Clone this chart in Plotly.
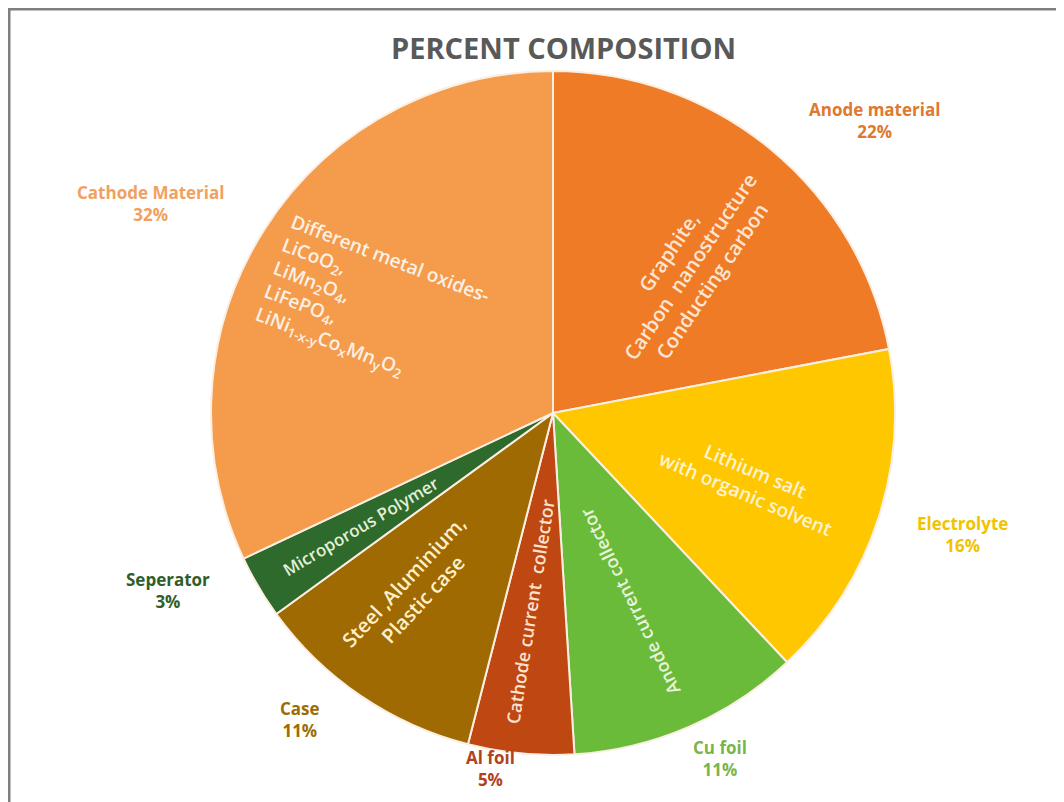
import plotly.graph_objects as go

# ---- data ----
labels = ["Anode material", "Electrolyte", "Cu foil", "Al foil", "Case", "Seperator", "Cathode Material"]
values = [22, 16, 11, 5, 11, 3, 32]
inside_texts = [
    "Graphite,<br>Carbon  nanostructure<br>Conducting carbon",
    "Lithium salt<br>with organic solvent",
    "Anode current collector",
    "Cathode current  collector",
    "Steel ,Aluminium,<br>Plastic case",
    "Microporous Polymer",
    "Different metal oxides-<br>LiCoO<sub>2</sub>,<br>LiMn<sub>2</sub>O<sub>4</sub>,<br>LiFePO<sub>4</sub>,<br>LiNi<sub>1-x-y</sub>Co<sub>x</sub>Mn<sub>y</sub>O<sub>2</sub>",
]
title_text = "PERCENT COMPOSITION"

# ---- styles ----
slice_colors = ["#EF7B26", "#FFC700", "#6BBB3B", "#BF4712", "#A06A02", "#2E6A2C", "#F49B4C"]
label_colors = ["#E0782E", "#F2C200", "#79B54A", "#B2421C", "#9A6C05", "#2F5E2B", "#F2A060"]
inside_colors = ["#FCE6D2", "#FFF3D0", "#E8F4DC", "#FBE2CE", "#FFF0C8", "#E2F0D9", "#FDF0E4"]
# page-pixel positions (x, y) of outside labels
label_pos = [(874, 121), (962, 534), (720, 758), (490, 768), (300, 719), (168, 590), (150, 203)]
# page-pixel centres, rotation angles, sizes and alignment of the inside descriptions
inside_pos = [(690, 266), (750, 482), (630, 602), (530, 612), (413, 590), (360, 526), (372, 305)]
inside_ang = [-56, 23, -116, -81, -47, -30.5, 21]
inside_size = [20, 19, 18, 18, 20, 17, 19]
inside_align = ["center", "center", "center", "center", "center", "center", "left"]

W, H = 1064, 802
OFF = 8  # page body margin
cx, cy, R = 553, 413, 342


def px(x):
    return (x - OFF) / W


def py(y):
    return 1 - (y - OFF) / H


fig = go.Figure()
fig.add_trace(go.Pie(
    labels=labels,
    values=values,
    textinfo="none",
    sort=False,
    direction="clockwise",
    rotation=0,
    marker=dict(colors=slice_colors, line=dict(color="#FBEFE3", width=2)),
    domain=dict(x=[px(cx - R), px(cx + R)], y=[py(cy + R), py(cy - R)]),
    showlegend=False,
    hoverinfo="label+percent",
))

annotations = []
for lab, val, col, (lx, ly) in zip(labels, values, label_colors, label_pos):
    annotations.append(dict(
        x=px(lx), y=py(ly), xref="paper", yref="paper",
        text=f"<b>{lab}</b><br><b>{val}%</b>",
        showarrow=False, xanchor="center", yanchor="middle",
        font=dict(family="Open Sans", size=17, color=col),
        align="center",
    ))

for txt, col, (tx, ty), ang, sz, al in zip(inside_texts, inside_colors, inside_pos,
                                          inside_ang, inside_size, inside_align):
    annotations.append(dict(
        x=px(tx), y=py(ty), xref="paper", yref="paper",
        text=txt, textangle=ang, showarrow=False,
        xanchor="center", yanchor="middle", align=al,
        font=dict(family="Open Sans", size=sz, color=col, weight=600),
    ))

annotations.append(dict(
    x=px(563), y=py(47), xref="paper", yref="paper",
    text=f"<b>{title_text}</b>", showarrow=False,
    xanchor="center", yanchor="middle",
    font=dict(family="Open Sans", size=29, color="#595959"),
))

fig.update_layout(
    width=W, height=H,
    margin=dict(l=0, r=0, t=0, b=0),
    paper_bgcolor="white",
    plot_bgcolor="white",
    annotations=annotations,
    shapes=[dict(type="rect", xref="paper", yref="paper",
                 x0=px(9), x1=1.05, y0=-0.05, y1=1 - 1 / H,
                 line=dict(color="#7F7F7F", width=3))],
)

fig.write_html("out.html")
